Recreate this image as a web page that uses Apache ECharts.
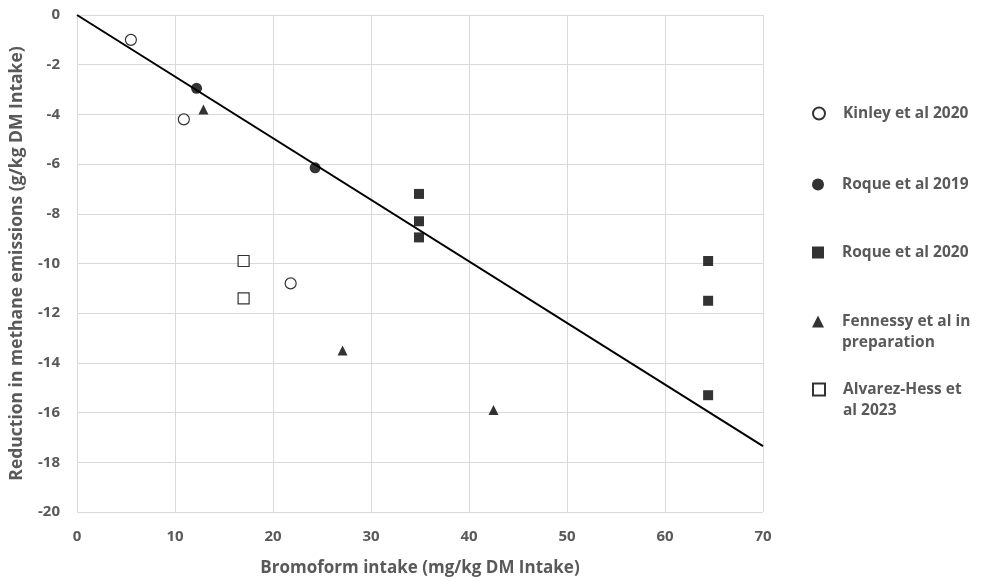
<!DOCTYPE html>
<html>
<head>
<meta charset="utf-8">
<script src="https://cdn.jsdelivr.net/npm/echarts@6/dist/echarts.min.js"></script>
<style>
  html, body { margin: 0; padding: 0; background: #fff; }
  #chart { width: 981px; height: 581px; }
</style>
</head>
<body>
<div id="chart"></div>
<script>
// values: [bromoform intake, methane reduction]
const kinley2020 = [[5.5, -1.0], [10.9, -4.2], [21.8, -10.8]];
const roque2019 = [[12.2, -2.95], [24.3, -6.15]];
const roque2020 = [[34.9, -7.2], [34.9, -8.3], [34.9, -8.95], [64.4, -9.9], [64.4, -11.5], [64.4, -15.3]];
const fennessy = [[12.9, -3.8], [27.1, -13.5], [42.5, -15.9]];
const alvarezHess2023 = [[17.0, -9.9], [17.0, -11.4]];
const trendLine = [[0, 0], [70, -17.35]];

const seriesNames = ['Kinley et al 2020', 'Roque et al 2019', 'Roque et al 2020',
  'Fennessy et al in preparation', 'Alvarez-Hess et al 2023'];
// a leading blank line keeps the marker next to the first text line
const legendLabels = ['Kinley et al 2020', 'Roque et al 2019', 'Roque et al 2020',
  '\nFennessy et al in\npreparation', '\nAlvarez-Hess et\nal 2023'];
const legendTops = [103, 174, 242, 290, 358];

const font = '"Open Sans", sans-serif';
const grey = '#595959';

let chart = echarts.init(document.getElementById('chart'));

let legends = seriesNames.map((name, i) => ({
  data: [name],
  left: 812,
  top: legendTops[i],
  padding: 0,
  itemWidth: 12,
  itemHeight: 12,
  itemGap: 0,
  selectedMode: false,
  formatter: () => legendLabels[i],
  textStyle: {
    fontFamily: font, fontWeight: 'bold', fontSize: 15.5, color: grey,
    lineHeight: 21, padding: [0, 0, 0, 13]
  }
}));

function dots(name, data, symbol, size, filled) {
  return {
    name: name,
    type: 'scatter',
    data: data,
    symbol: symbol,
    symbolSize: size,
    itemStyle: {
      color: filled ? '#000' : '#fff',
      borderColor: '#000',
      borderWidth: filled ? 0 : 1.2
    },
    z: 3
  };
}

let option = {
  animation: false,
  backgroundColor: '#fff',
  grid: { left: 77, right: 218, top: 15, bottom: 69, outerBoundsMode: 'none' },
  legend: legends,
  xAxis: {
    type: 'value',
    min: 0, max: 70, interval: 10,
    name: 'Bromoform intake (mg/kg DM Intake)',
    nameLocation: 'middle',
    nameGap: 48,
    nameTextStyle: { fontFamily: font, fontWeight: 'bold', fontSize: 17, color: grey },
    axisLine: { lineStyle: { color: '#d9d9d9' } },
    axisTick: { show: false },
    axisLabel: { margin: 17, fontFamily: font, fontWeight: 'bold', fontSize: 15, color: grey },
    splitLine: { lineStyle: { color: '#d9d9d9' } }
  },
  yAxis: {
    type: 'value',
    min: -20, max: 0, interval: 2,
    name: 'Reduction in methane emissions (g/kg DM Intake)',
    nameLocation: 'middle',
    nameGap: 51,
    nameTextStyle: { fontFamily: font, fontWeight: 'bold', fontSize: 17.5, color: grey },
    axisLine: { show: true, lineStyle: { color: '#d9d9d9' } },
    axisTick: { show: false },
    axisLabel: { margin: 17, fontFamily: font, fontWeight: 'bold', fontSize: 15, color: grey },
    splitLine: { lineStyle: { color: '#d9d9d9' } }
  },
  series: [
    dots(seriesNames[0], kinley2020, 'circle', 11, false),
    dots(seriesNames[1], roque2019, 'circle', 11, true),
    dots(seriesNames[2], roque2020, 'rect', 10, true),
    dots(seriesNames[3], fennessy, 'triangle', 10, true),
    dots(seriesNames[4], alvarezHess2023, 'rect', 11, false),
    {
      type: 'line',
      data: trendLine,
      symbol: 'none',
      lineStyle: { color: '#000', width: 2 },
      z: 2
    }
  ]
};

chart.setOption(option);
</script>
</body>
</html>
